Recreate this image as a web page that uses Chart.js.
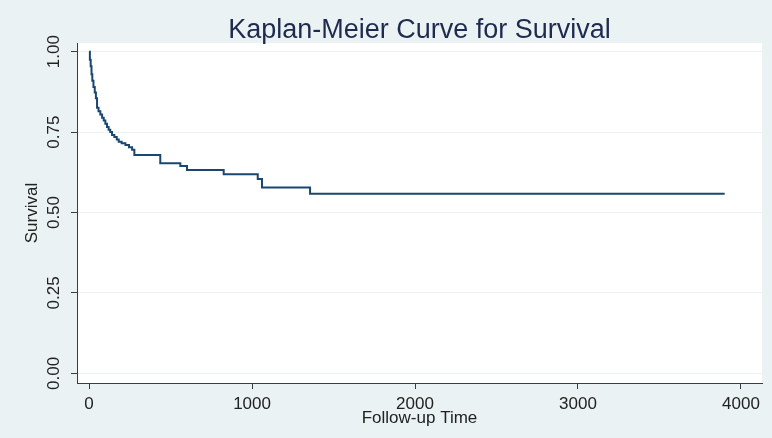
<!DOCTYPE html>
<html>
<head>
<meta charset="utf-8">
<script src="https://cdn.jsdelivr.net/npm/chart.js@4.4.1/dist/chart.umd.min.js"></script>
<style>
  html, body { margin: 0; padding: 0; background: #eaf2f3; }
  #wrap { width: 772px; height: 438px; }
</style>
</head>
<body>
<div id="wrap"><canvas id="km"></canvas></div>
<script>
// Kaplan-Meier estimate
const times = [0, 5, 10, 15, 20, 27, 35, 42, 49, 58, 69, 80, 90, 100, 110, 120, 130, 141, 155, 170, 182, 200, 223, 245, 264, 278, 437, 560, 601, 826, 1035, 1061, 1356, 3900];
const survival = [1.000, 0.975, 0.955, 0.930, 0.910, 0.890, 0.873, 0.855, 0.826, 0.815, 0.805, 0.795, 0.786, 0.776, 0.766, 0.757, 0.750, 0.741, 0.735, 0.727, 0.720, 0.715, 0.710, 0.703, 0.695, 0.679, 0.653, 0.645, 0.632, 0.619, 0.604, 0.578, 0.558, 0.558];
const xTicks = [0, 1000, 2000, 3000, 4000];
const yTicks = [0, 0.25, 0.5, 0.75, 1];

const points = times.map((t, i) => ({ x: t, y: survival[i] }));

const bgPlugin = {
    id: 'bg',
    beforeDraw(chart) {
        const ctx = chart.ctx;
        const a = chart.chartArea;
        ctx.save();
        ctx.fillStyle = '#eaf2f3';
        ctx.fillRect(0, 0, chart.width, chart.height);
        ctx.fillStyle = '#ffffff';
        ctx.fillRect(a.left, a.top, a.right - a.left, a.bottom - a.top);
        ctx.restore();
    }
};

Chart.defaults.font.family = '"Liberation Sans", Arial, sans-serif';

new Chart(document.getElementById('km'), {
    type: 'line',
    data: {
        datasets: [{
            label: 'Survival',
            data: points,
            borderColor: '#1a476f',
            borderWidth: 2,
            pointRadius: 0,
            stepped: true,
            fill: false
        }]
    },
    options: {
        responsive: true,
        maintainAspectRatio: false,
        animation: false,
        layout: { padding: { left: 0, right: 10, top: 0, bottom: 0 } },
        plugins: {
            legend: { display: false },
            tooltip: { enabled: false },
            title: {
                display: true,
                text: 'Kaplan-Meier Curve for Survival',
                fullSize: false,
                color: '#1e2b4f',
                font: { size: 27, weight: 'normal', lineHeight: 1 },
                padding: { top: 17, bottom: -1 }
            }
        },
        scales: {
            x: {
                type: 'linear',
                min: -74,
                max: 4129,
                afterBuildTicks: (s) => { s.ticks = xTicks.map(v => ({ value: v })); },
                afterFit: (s) => { s.height = 55; },
                border: { color: '#3c3c3c', width: 1 },
                grid: { drawOnChartArea: false, tickColor: '#3c3c3c', tickLength: 6 },
                ticks: { color: '#222', font: { size: 17 }, padding: 5, maxRotation: 0, callback: (v) => String(v) },
                title: {
                    display: true,
                    text: 'Follow-up Time',
                    color: '#222',
                    font: { size: 17 },
                    padding: { top: 0, bottom: 9 }
                }
            },
            y: {
                type: 'linear',
                min: -0.03,
                max: 1.027,
                afterBuildTicks: (s) => { s.ticks = yTicks.map(v => ({ value: v })); },
                afterFit: (s) => { s.width = 77; },
                border: { color: '#3c3c3c', width: 1 },
                grid: { color: '#ebf2f3', lineWidth: 1, tickColor: '#3c3c3c', tickLength: 6 },
                ticks: {
                    color: '#222',
                    font: { size: 17 },
                    minRotation: 90,
                    maxRotation: 90,
                    crossAlign: 'center',
                    padding: 0,
                    callback: (v) => Number(v).toFixed(2)
                },
                title: {
                    display: true,
                    text: 'Survival',
                    color: '#222',
                    font: { size: 17 },
                    padding: { top: 22, bottom: 0 }
                }
            }
        }
    },
    plugins: [bgPlugin]
});
</script>
</body>
</html>
